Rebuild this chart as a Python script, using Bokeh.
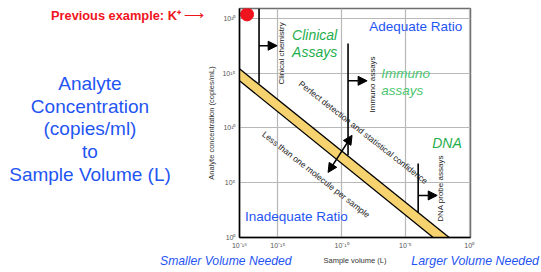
import math
from bokeh.plotting import figure
from bokeh.models import (Range1d, FixedTicker, CustomJSTickFormatter, Label, Arrow,
                          NormalHead, GridBox, Div)
from bokeh.embed import file_html
from bokeh.resources import INLINE

# ---- data ----
volume_ticks = [1e-18, 1e-15, 1e-10, 1e-5, 1]
conc_ticks = [1, 1e5, 1e10, 1e15, 1e20]

# band between "perfect detection" (upper) and "less than one molecule" (lower)
band_upper_volume = [1e-18, 2.7e-2]
band_upper_conc = [2.5e15, 1]
band_lower_volume = [1e-18, 1.5e-3]
band_lower_conc = [2.0e14, 1]

assay_names = ["Clinical chemistry", "Immuno assays", "DNA probe assays"]
assay_volume = [3.4e-17, 3.2e-10, 1.0e-4]
assay_conc_top = [8e20, 5e17, 5.8e6]
assay_conc_bottom = [1.15e14, 3.2e7, 1.9e2]
assay_arrow_conc = [3.2e17, 2e14, 6.9e3]
assay_arrow_tip_volume = [8.9e-16, 1.0e-8, 3.1e-3]

ratio_arrow_volume = [8.7e-12, 6.6e-10]
ratio_arrow_conc = [8.7e5, 2.1e9]

example_volume = [3.9e-18]
example_conc = [2.3e20]

side_title_lines = ["Analyte", "Concentration", "(copies/ml)", "to", "Sample Volume (L)"]

FONT = "Liberation Sans"
BLUE = "#1f55f2"
GREEN = "#1fae4e"
LGREEN = "#4cc772"
RED = "#f0141e"
W, H = 541, 272

p = figure(width=W, height=H, x_axis_type="log", y_axis_type="log",
           x_range=Range1d(1e-18, 10 ** 0.1), y_range=Range1d(1, 10 ** 20.9),
           output_backend="svg", toolbar_location=None,
           min_border_left=239, min_border_right=71, min_border_top=8, min_border_bottom=35)
p.background_fill_color = "white"
p.border_fill_color = "white"
p.outline_line_color = "#6e6e6e"
p.outline_line_width = 1.5

fmt = CustomJSTickFormatter(code="""
const sup = {'0':'\\u2070','1':'\\u00b9','2':'\\u00b2','3':'\\u00b3','4':'\\u2074','5':'\\u2075','6':'\\u2076','7':'\\u2077','8':'\\u2078','9':'\\u2079','-':'\\u207b'};
const e = Math.round(Math.log10(tick));
return '10' + String(e).split('').map(c => sup[c]).join('');
""")

p.xaxis.ticker = FixedTicker(ticks=volume_ticks, minor_ticks=[])
p.yaxis.ticker = FixedTicker(ticks=conc_ticks, minor_ticks=[])
for ax in (p.xaxis, p.yaxis):
    ax.formatter = fmt
    ax.major_tick_line_color = None
    ax.minor_tick_line_color = None
    ax.major_tick_out = 0
    ax.major_tick_in = 0
    ax.minor_tick_out = 0
    ax.minor_tick_in = 0
    ax.axis_line_color = "black"
    ax.axis_line_width = 1.5
    ax.major_label_text_font = FONT
    ax.major_label_text_font_size = "7px"
    ax.major_label_text_color = "#555555"
    ax.axis_label_text_font = FONT
    ax.axis_label_text_font_size = "7.5px"
    ax.axis_label_text_font_style = "normal"
    ax.axis_label_text_color = "#333333"
p.xaxis.axis_label = "Sample volume (L)"
p.yaxis.axis_label = "Analyte concentration (copies/mL)"
p.xaxis.major_label_standoff = 4
p.xaxis.axis_label_standoff = 4
p.yaxis.major_label_standoff = 4
p.yaxis.axis_label_standoff = 3

p.grid.grid_line_color = "#b8b8b8"
p.grid.grid_line_width = 1.2

# band
p.patch(x=band_upper_volume + band_lower_volume[::-1],
        y=band_upper_conc + band_lower_conc[::-1],
        fill_color="#f7d370", line_color=None)
p.line(band_upper_volume, band_upper_conc, line_color="black", line_width=1.3)
p.line(band_lower_volume, band_lower_conc, line_color="black", line_width=1.3)

# assay ranges
p.segment(x0=assay_volume, y0=assay_conc_bottom, x1=assay_volume, y1=assay_conc_top,
          line_color="black", line_width=1.6)
for v, c, t in zip(assay_volume, assay_arrow_conc, assay_arrow_tip_volume):
    p.add_layout(Arrow(x_start=v, y_start=c, x_end=t, y_end=c, line_width=1.6,
                       end=NormalHead(size=9, fill_color="black", line_color="black")))
p.add_layout(Arrow(x_start=ratio_arrow_volume[0], y_start=ratio_arrow_conc[0],
                   x_end=ratio_arrow_volume[1], y_end=ratio_arrow_conc[1], line_width=1.6,
                   start=NormalHead(size=9, fill_color="black", line_color="black"),
                   end=NormalHead(size=9, fill_color="black", line_color="black")))

p.scatter(x=example_volume, y=example_conc, size=13, color=RED)

def dlabel(text, xe, ye, size, color, align="left", angle=0.0, style="normal"):
    p.add_layout(Label(x=10 ** xe, y=10 ** ye, text=text, text_font=FONT,
                       text_font_size=size, text_color=color, text_align=align,
                       text_baseline="middle", angle=angle, text_font_style=style))

# assay names along the vertical lines
dlabel(assay_names[0], -14.67, 16.8, "8px", "#222222", "center", math.pi / 2)
dlabel(assay_names[1], -7.61, 13.97, "8px", "#222222", "center", math.pi / 2)
dlabel(assay_names[2], -2.27, 4.47, "8px", "#222222", "center", math.pi / 2)
dlabel("Perfect detection and statistical confidence", -8.3, 9.6, "8.5px", "#222222", "center", -0.665)
dlabel("Less than one molecule per sample", -12.0, 5.75, "8.5px", "#222222", "center", -0.665)

dlabel("Clinical", -13.88, 18.45, "14px", GREEN, style="italic")
dlabel("Assays", -13.88, 16.89, "14px", GREEN, style="italic")
dlabel("Immuno", -6.9, 14.98, "13.5px", LGREEN, style="italic")
dlabel("assays", -6.9, 13.42, "13.5px", LGREEN, style="italic")
dlabel("DNA", -2.9, 8.58, "14px", GREEN, style="italic")
dlabel("Adequate Ratio", -7.84, 19.27, "13.5px", BLUE)
dlabel("Inadequate Ratio", -17.57, 1.92, "13.5px", BLUE)

# ---- slide texts around the chart: transparent SVG layer over the figure ----
def stext(txt, x, y, size, color, anchor="start", weight="normal", style="normal", font=FONT):
    return (f'<text x="{x}" y="{y}" text-anchor="{anchor}" dominant-baseline="central" '
            f'font-family="{font}" font-size="{size}px" font-weight="{weight}" '
            f'font-style="{style}" fill="{color}">{txt}</text>')

parts = [stext(t, 90, y, 19, BLUE, "middle") for t, y in zip(side_title_lines, [83, 106, 128, 151, 174])]
parts.append(stext("Previous example: K\u207a", 51, 15, 12.8, RED, weight="bold"))
parts.append(stext("\u27f6", 184, 15, 14, RED, font="DejaVu Sans"))
parts.append(stext("Smaller Volume Needed", 160, 261, 12.2, BLUE, style="italic"))
parts.append(stext("Larger Volume Needed", 539, 261, 12.4, BLUE, "end", style="italic"))
svg = (f'<svg xmlns="http://www.w3.org/2000/svg" width="{W}" height="{H}" '
       f'style="position:absolute;left:0;top:0;pointer-events:none">' + "".join(parts) + '</svg>')
overlay = Div(text=svg, width=W, height=H, styles={"pointer-events": "none", "margin": "0", "padding": "0"})

layout = GridBox(children=[(p, 0, 0), (overlay, 0, 0)])

open("out.html", "w", encoding="utf-8").write(file_html(layout, INLINE))
